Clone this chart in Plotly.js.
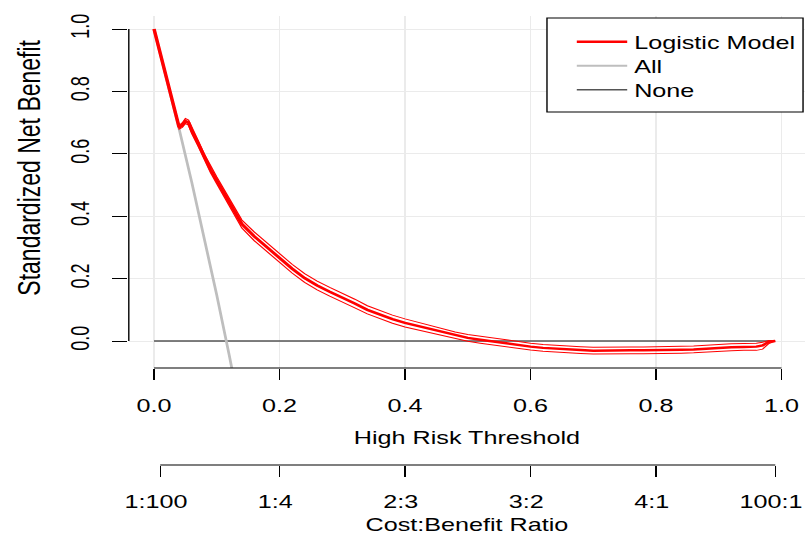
<!DOCTYPE html>
<html><head><meta charset="utf-8">
<script src="https://cdn.plot.ly/plotly-3.0.1.min.js"></script>
<style>
html,body{margin:0;padding:0;background:#fff;overflow:hidden;width:805px;height:538px;}
#chart{width:575px;height:538px;transform:scaleX(1.4);transform-origin:0 0;}
</style></head><body><div id="chart"></div>
<script>
// ---- data ----
const threshold = [0,0.01,0.02,0.03,0.04,0.045,0.05,0.055,0.06,0.07,0.08,0.09,0.10,0.12,0.14,0.16,0.18,0.20,0.22,0.24,0.26,0.28,0.30,0.32,0.34,0.36,0.38,0.40,0.42,0.44,0.46,0.48,0.50,0.52,0.54,0.56,0.58,0.60,0.62,0.64,0.66,0.68,0.70,0.72,0.74,0.76,0.78,0.80,0.82,0.84,0.86,0.88,0.90,0.92,0.94,0.96,0.97,0.98,0.99];
const modelNB = [1.0,0.92,0.84,0.76,0.685,0.692,0.705,0.70,0.675,0.635,0.59,0.55,0.515,0.445,0.375,0.335,0.30,0.265,0.232,0.202,0.178,0.158,0.14,0.12,0.10,0.085,0.07,0.058,0.048,0.038,0.028,0.018,0.01,0.004,-0.002,-0.008,-0.013,-0.018,-0.022,-0.025,-0.027,-0.029,-0.031,-0.030,-0.030,-0.030,-0.030,-0.030,-0.029,-0.028,-0.027,-0.024,-0.021,-0.020,-0.019,-0.018,-0.014,-0.002,0.0];
const modelLower = [1.0,0.917,0.836,0.755,0.679,0.685,0.697,0.692,0.666,0.626,0.58,0.54,0.504,0.433,0.362,0.321,0.286,0.251,0.218,0.188,0.164,0.144,0.126,0.106,0.087,0.072,0.057,0.045,0.036,0.026,0.016,0.007,-0.001,-0.007,-0.013,-0.019,-0.024,-0.029,-0.033,-0.036,-0.038,-0.040,-0.042,-0.041,-0.041,-0.041,-0.041,-0.041,-0.040,-0.039,-0.038,-0.035,-0.032,-0.031,-0.030,-0.030,-0.026,-0.008,0.0];
const modelUpper = [1.0,0.923,0.844,0.765,0.691,0.699,0.713,0.708,0.684,0.644,0.60,0.56,0.526,0.457,0.388,0.349,0.314,0.279,0.246,0.216,0.192,0.172,0.154,0.134,0.113,0.098,0.083,0.071,0.060,0.050,0.040,0.029,0.021,0.015,0.009,0.003,-0.002,-0.007,-0.011,-0.014,-0.016,-0.018,-0.020,-0.019,-0.019,-0.019,-0.019,-0.019,-0.018,-0.017,-0.016,-0.013,-0.010,-0.009,-0.008,-0.007,-0.004,0.002,0.0];
const allThreshold = [0,0.02,0.04,0.06,0.08,0.10,0.12,0.14];
const allNB = [1.0,0.843,0.68,0.51,0.332,0.147,-0.047,-0.25];
const noneThreshold = [0,0.99];
const noneNB = [0,0];
const xTickVals = [0,0.2,0.4,0.6,0.8,1.0];
const yTickVals = [0,0.2,0.4,0.6,0.8,1.0];
const cbTickVals = [0.0099,0.2,0.4,0.6,0.8,0.9901];
const cbTickText = ['1:100','1:4','2:3','3:2','4:1','100:1'];
const seriesNames = ['Logistic Model','All','None'];
const xTitle = 'High Risk Threshold';
const cbTitle = 'Cost:Benefit Ratio';
const yTitle = 'Standardized Net Benefit';

// ---- layout geometry (drawn at 575px wide, stretched 1.4x horizontally like the reference) ----
const W = 575, H = 538, ML = 92, MT = 16;
const PW = W - ML;
const plotBottomPx = 368, cbAxisPx = 465;
const paperH = H - MT;
const yDomBottom = (H - plotBottomPx) / paperH;
const cbPos = (H - cbAxisPx) / paperH;
const xRange = [-0.0402, 1.0375];
const yRange = [-0.0865, 1.0418];
const FONT = '"Liberation Sans", Arial, Helvetica, sans-serif';
const px2x = p => (p - ML) / PW;
const px2y = p => (H - p) / paperH;
const legX = px2x(407);

const traces = [
  {x: noneThreshold, y: noneNB, type:'scatter', mode:'lines', name: seriesNames[2], legend:'legend3',
   line:{color:'#555555', width:1.5}, hoverinfo:'skip'},
  {x: allThreshold, y: allNB, type:'scatter', mode:'lines', name: seriesNames[1], legend:'legend2',
   line:{color:'#bebebe', width:2}, hoverinfo:'skip'},
  {x: threshold, y: modelLower, type:'scatter', mode:'lines', showlegend:false,
   line:{color:'#ff0000', width:1}, hoverinfo:'skip'},
  {x: threshold, y: modelUpper, type:'scatter', mode:'lines', showlegend:false,
   line:{color:'#ff0000', width:1}, hoverinfo:'skip'},
  {x: threshold, y: modelNB, type:'scatter', mode:'lines', name: seriesNames[0], legend:'legend',
   line:{color:'#ff0000', width:2.5}, hoverinfo:'skip'},
  {x: cbTickVals, y: cbTickVals.map(() => null), xaxis:'x2', yaxis:'y', type:'scatter', mode:'lines',
   showlegend:false, hoverinfo:'skip'}
];

const legendBase = {xanchor:'left', yanchor:'middle', bgcolor:'rgba(0,0,0,0)', borderwidth:0,
  font:{size:18, family:FONT, color:'#000'}, itemwidth:36};

const layout = {
  width: W, height: H,
  margin: {l: ML, r: 0, t: MT, b: 0, pad: 0},
  paper_bgcolor: '#ffffff', plot_bgcolor: '#ffffff',
  font: {family: FONT, size: 18, color: '#000000'},
  showlegend: true,
  xaxis: {
    domain: [0, 1], anchor: 'y', range: xRange, tickvals: xTickVals, tickformat: '.1f',
    ticks: 'outside', ticklen: 11, tickwidth: 1, tickcolor: '#000', showline: false, zeroline: false,
    showgrid: true, gridcolor: '#ebebeb', gridwidth: 1, ticklabelstandoff: 10, ticklabeloverflow: 'allow',
    title: {text: xTitle, standoff: 16, font: {size: 18}}, automargin: false, fixedrange: true
  },
  xaxis2: {
    overlaying: 'x', anchor: 'free', position: cbPos, side: 'bottom', range: xRange,
    tickvals: cbTickVals, ticktext: cbTickText, ticks: 'outside', ticklen: 11, tickwidth: 1, tickcolor: '#000',
    showline: false, showgrid: false, zeroline: false, ticklabelstandoff: 9, ticklabelshift: -3,
    ticklabeloverflow: 'allow',
    title: {text: cbTitle, standoff: 7, font: {size: 18}}, automargin: false, fixedrange: true
  },
  yaxis: {
    domain: [yDomBottom, 1], range: yRange, tickvals: yTickVals, tickformat: '.1f', tickangle: -90,
    ticks: 'outside', ticklen: 11, tickwidth: 1, tickcolor: '#000', showline: false, zeroline: false,
    showgrid: true, gridcolor: '#ebebeb', gridwidth: 1, ticklabelstandoff: 9,
    automargin: false, fixedrange: true
  },
  legend:  Object.assign({x: legX, y: px2y(42)}, legendBase),
  legend2: Object.assign({x: legX, y: px2y(66)}, legendBase),
  legend3: Object.assign({x: legX, y: px2y(90)}, legendBase),
  annotations: [
    {text: yTitle, xref:'paper', yref:'paper', x: px2x(20.7), y: px2y(168), xanchor:'center', yanchor:'middle',
     textangle: -90, showarrow:false, font:{size:23, family:FONT, color:'#000'}}
  ],
  shapes: [
    // legend frame
    {type:'rect', xref:'paper', yref:'paper', x0:px2x(390.7), x1:px2x(573.6),
     y0:px2y(112), y1:px2y(18), line:{color:'#000', width:1}, fillcolor:'#ffffff', layer:'above'},
    // y axis line (0..1)
    {type:'line', xref:'paper', yref:'y', x0:0, x1:0, y0:yTickVals[0], y1:yTickVals[yTickVals.length-1],
     line:{color:'#000', width:1}},
    // x axis line (0..1)
    {type:'line', xref:'x', yref:'paper', x0:xTickVals[0], x1:xTickVals[xTickVals.length-1], y0:yDomBottom, y1:yDomBottom,
     line:{color:'#000', width:1}},
    // cost:benefit axis line
    {type:'line', xref:'x', yref:'paper', x0:cbTickVals[0], x1:cbTickVals[cbTickVals.length-1], y0:cbPos, y1:cbPos,
     line:{color:'#000', width:1}}
  ]
};

Plotly.newPlot('chart', traces, layout, {staticPlot: true, displayModeBar: false});
</script></body></html>
